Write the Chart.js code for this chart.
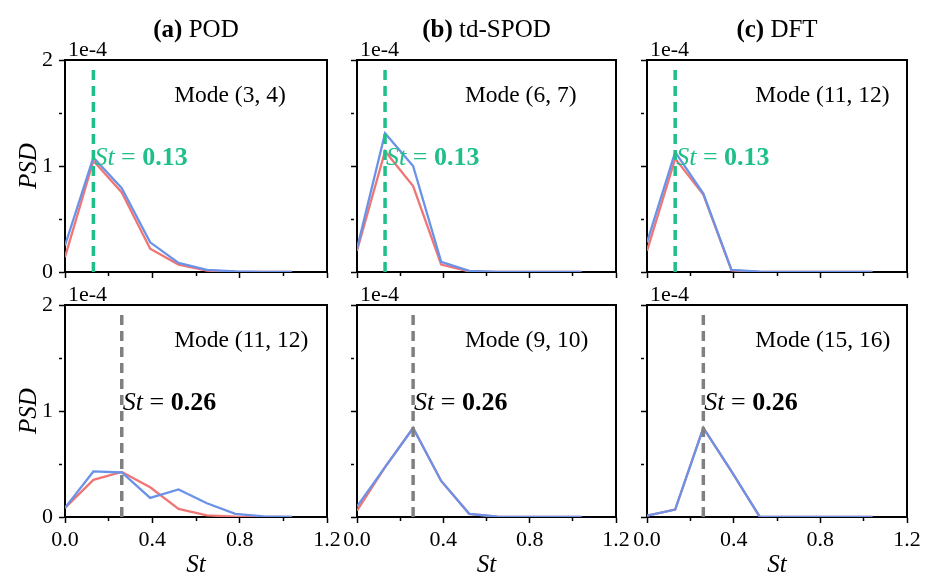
<!DOCTYPE html>
<html>
<head>
<meta charset="utf-8">
<script src="https://cdn.jsdelivr.net/npm/chart.js@4.4.1/dist/chart.umd.min.js"></script>
<style>
  html, body { margin: 0; padding: 0; background: #fff; }
  #wrap { position: relative; width: 935px; height: 580px; background: #fff; }
  #wrap canvas { position: absolute; left: 0; top: 0; }
</style>
</head>
<body>
<div id="wrap">
  <canvas id="c0" width="935" height="580"></canvas>
  <canvas id="c1" width="935" height="580"></canvas>
  <canvas id="c2" width="935" height="580"></canvas>
  <canvas id="c3" width="935" height="580"></canvas>
  <canvas id="c4" width="935" height="580"></canvas>
  <canvas id="c5" width="935" height="580"></canvas>
</div>
<script>
// ---------- data (PSD in units of 1e-4) ----------
const St = [0, 0.13, 0.26, 0.39, 0.52, 0.65, 0.78, 0.91, 1.04];

const podTopBlue   = [0.25, 1.08, 0.79, 0.28, 0.085, 0.02, 0.005, 0.001, 0];
const podTopRed    = [0.14, 1.05, 0.75, 0.22, 0.07, 0.012, 0.003, 0.001, 0];
const spodTopBlue  = [0.22, 1.31, 1.00, 0.095, 0.01, 0.002, 0, 0, 0];
const spodTopRed   = [0.20, 1.14, 0.81, 0.07, 0.005, 0.001, 0, 0, 0];
const dftTopBlue   = [0.28, 1.13, 0.74, 0.02, 0.003, 0, 0, 0, 0];
const dftTopRed    = [0.20, 1.07, 0.73, 0.015, 0.002, 0, 0, 0, 0];

const podBotBlue   = [0.086, 0.43, 0.42, 0.18, 0.26, 0.13, 0.03, 0.006, 0.001];
const podBotRed    = [0.086, 0.35, 0.425, 0.28, 0.076, 0.016, 0.003, 0.001, 0];
const spodBotBlue  = [0.10, 0.47, 0.84, 0.34, 0.03, 0.003, 0, 0, 0];
const spodBotRed   = [0.06, 0.47, 0.84, 0.34, 0.03, 0.003, 0, 0, 0];
const dftBotBlue   = [0.013, 0.07, 0.84, 0.43, 0.003, 0, 0, 0, 0];
const dftBotRed    = [0.013, 0.07, 0.84, 0.43, 0.003, 0, 0, 0, 0];

const columnTitles = [["(a)", " POD"], ["(b)", " td-SPOD"], ["(c)", " DFT"]];
const topModes = ["Mode (3, 4)", "Mode (6, 7)", "Mode (11, 12)"];
const bottomModes = ["Mode (11, 12)", "Mode (9, 10)", "Mode (15, 16)"];
const markTop = 0.13;      // St marker, top row
const markBottom = 0.26;   // St marker, bottom row
const markHeight = 1.94;
const xTickLabels = [0, 0.4, 0.8, 1.2];
const yTickLabels = [0, 1, 2];

// ---------- styles ----------
const SERIF = "'Liberation Serif', 'Times New Roman', serif";
const RED = '#f07575';
const BLUE = '#6a93e8';
const GREEN = '#1fbf8a';
const GRAY = '#808080';

// panel geometry (chart areas)
const colLeft = [65, 357, 647];
const colRight = [327, 616, 907];
const yAxisW = [65, 20, 20];

const textPlugin = {
  id: 'panelText',
  afterDraw(chart, args, o) {
    const ctx = chart.ctx;
    const ca = chart.chartArea;
    const xs = chart.scales.x, ys = chart.scales.y;
    ctx.save();
    // frame (top & right)
    ctx.strokeStyle = '#000';
    ctx.lineWidth = 2;
    ctx.beginPath();
    ctx.moveTo(ca.left, ca.top);
    ctx.lineTo(ca.right, ca.top);
    ctx.lineTo(ca.right, ca.bottom);
    ctx.stroke();
    ctx.fillStyle = '#000';
    ctx.textBaseline = 'alphabetic';
    // title
    if (o.title) {
      ctx.font = 'bold 25px ' + SERIF;
      const w1 = ctx.measureText(o.title[0]).width;
      ctx.font = '25px ' + SERIF;
      const w2 = ctx.measureText(o.title[1]).width;
      let x = (ca.left + ca.right) / 2 - (w1 + w2) / 2;
      ctx.textAlign = 'left';
      ctx.font = 'bold 25px ' + SERIF;
      ctx.fillText(o.title[0], x, 37);
      ctx.font = '25px ' + SERIF;
      ctx.fillText(o.title[1], x + w1, 37);
    }
    // multiplier
    ctx.font = '22px ' + SERIF;
    ctx.textAlign = 'left';
    ctx.fillText('1e-4', ca.left + 3, ca.top - 4);
    // mode label
    ctx.textBaseline = 'middle';
    ctx.font = '23.5px ' + SERIF;
    ctx.fillText(o.mode, xs.getPixelForValue(0.5), ys.getPixelForValue(1.66));
    // St annotation
    const parts = [
      ['italic 26px ' + SERIF, 'St'],
      ['26px ' + SERIF, ' = '],
      ['bold 26px ' + SERIF, o.stText]
    ];
    let x = xs.getPixelForValue(o.mark) + 1;
    const y = ys.getPixelForValue(1.07);
    ctx.fillStyle = o.stColor;
    for (const [f, t] of parts) {
      ctx.font = f;
      ctx.fillText(t, x, y);
      x += ctx.measureText(t).width;
    }
    ctx.restore();
  }
};

function isMajorX(v) { return xTickLabels.some(t => Math.abs(t - v) < 1e-6); }
function isMajorY(v) { return yTickLabels.some(t => Math.abs(t - v) < 1e-6); }

function makePanel(idx, row, col, blue, red) {
  const bottomRow = row === 1;
  const top = bottomRow ? 305 : 60;
  const xH = bottomRow ? 63 : 8;
  const padBottom = bottomRow ? 0 : 300;
  const mark = bottomRow ? markBottom : markTop;
  const markColor = bottomRow ? GRAY : GREEN;
  const toPts = vals => St.map((s, i) => ({ x: s, y: vals[i] }));
  new Chart(document.getElementById('c' + idx), {
    type: 'line',
    data: {
      datasets: [
        { data: toPts(blue), borderColor: BLUE, borderWidth: 2.3, pointRadius: 0, tension: 0, order: 1 },
        { data: toPts(red), borderColor: RED, borderWidth: 2.3, pointRadius: 0, tension: 0, order: 2 },
        { data: [{ x: mark, y: 0 }, { x: mark, y: markHeight }], borderColor: markColor, borderWidth: 3.5,
          borderDash: [10, 6], pointRadius: 0, order: 0 }
      ]
    },
    options: {
      responsive: false,
      devicePixelRatio: 1,
      animation: false,
      layout: { padding: { left: colLeft[col] - yAxisW[col], right: 935 - colRight[col], top: top, bottom: padBottom } },
      plugins: {
        legend: { display: false },
        tooltip: { enabled: false },
        panelText: {
          title: bottomRow ? null : columnTitles[col],
          mode: bottomRow ? bottomModes[col] : topModes[col],
          mark: mark,
          stText: bottomRow ? '0.26' : '0.13',
          stColor: bottomRow ? '#000' : GREEN
        }
      },
      scales: {
        x: {
          type: 'linear', min: 0, max: 1.2,
          afterFit: s => { s.height = xH; },
          ticks: {
            stepSize: 0.2, autoSkip: false, maxRotation: 0, minRotation: 0, padding: 4,
            color: '#000', font: { family: SERIF, size: 22 },
            callback: v => (bottomRow && isMajorX(v)) ? v.toFixed(1) : ''
          },
          grid: {
            drawOnChartArea: false, drawTicks: true, tickLength: 6, tickColor: '#000', tickWidth: 1.5,
            tickBorderDash: c => (c.tick && isMajorX(c.tick.value)) ? [] : [3, 20]
          },
          border: { display: true, color: '#000', width: 2 },
          title: {
            display: bottomRow, text: 'St', color: '#000',
            font: { family: SERIF, size: 25, style: 'italic' }, padding: { top: 0, bottom: 0 }
          }
        },
        y: {
          type: 'linear', min: 0, max: 2,
          afterFit: s => { s.width = yAxisW[col]; },
          ticks: {
            stepSize: 0.5, padding: 6, color: '#000', font: { family: SERIF, size: 22 },
            callback: v => (col === 0 && isMajorY(v)) ? String(v) : ''
          },
          grid: {
            drawOnChartArea: false, drawTicks: true, tickLength: 6, tickColor: '#000', tickWidth: 1.5,
            tickBorderDash: c => (c.tick && isMajorY(c.tick.value)) ? [] : [3, 20]
          },
          border: { display: true, color: '#000', width: 2 },
          title: {
            display: col === 0, text: 'PSD', color: '#000',
            font: { family: SERIF, size: 25, style: 'italic' }, padding: { top: 14, bottom: 0 }
          }
        }
      }
    },
    plugins: [textPlugin]
  });
}

makePanel(0, 0, 0, podTopBlue, podTopRed);
makePanel(1, 0, 1, spodTopBlue, spodTopRed);
makePanel(2, 0, 2, dftTopBlue, dftTopRed);
makePanel(3, 1, 0, podBotBlue, podBotRed);
makePanel(4, 1, 1, spodBotBlue, spodBotRed);
makePanel(5, 1, 2, dftBotBlue, dftBotRed);
</script>
</body>
</html>
